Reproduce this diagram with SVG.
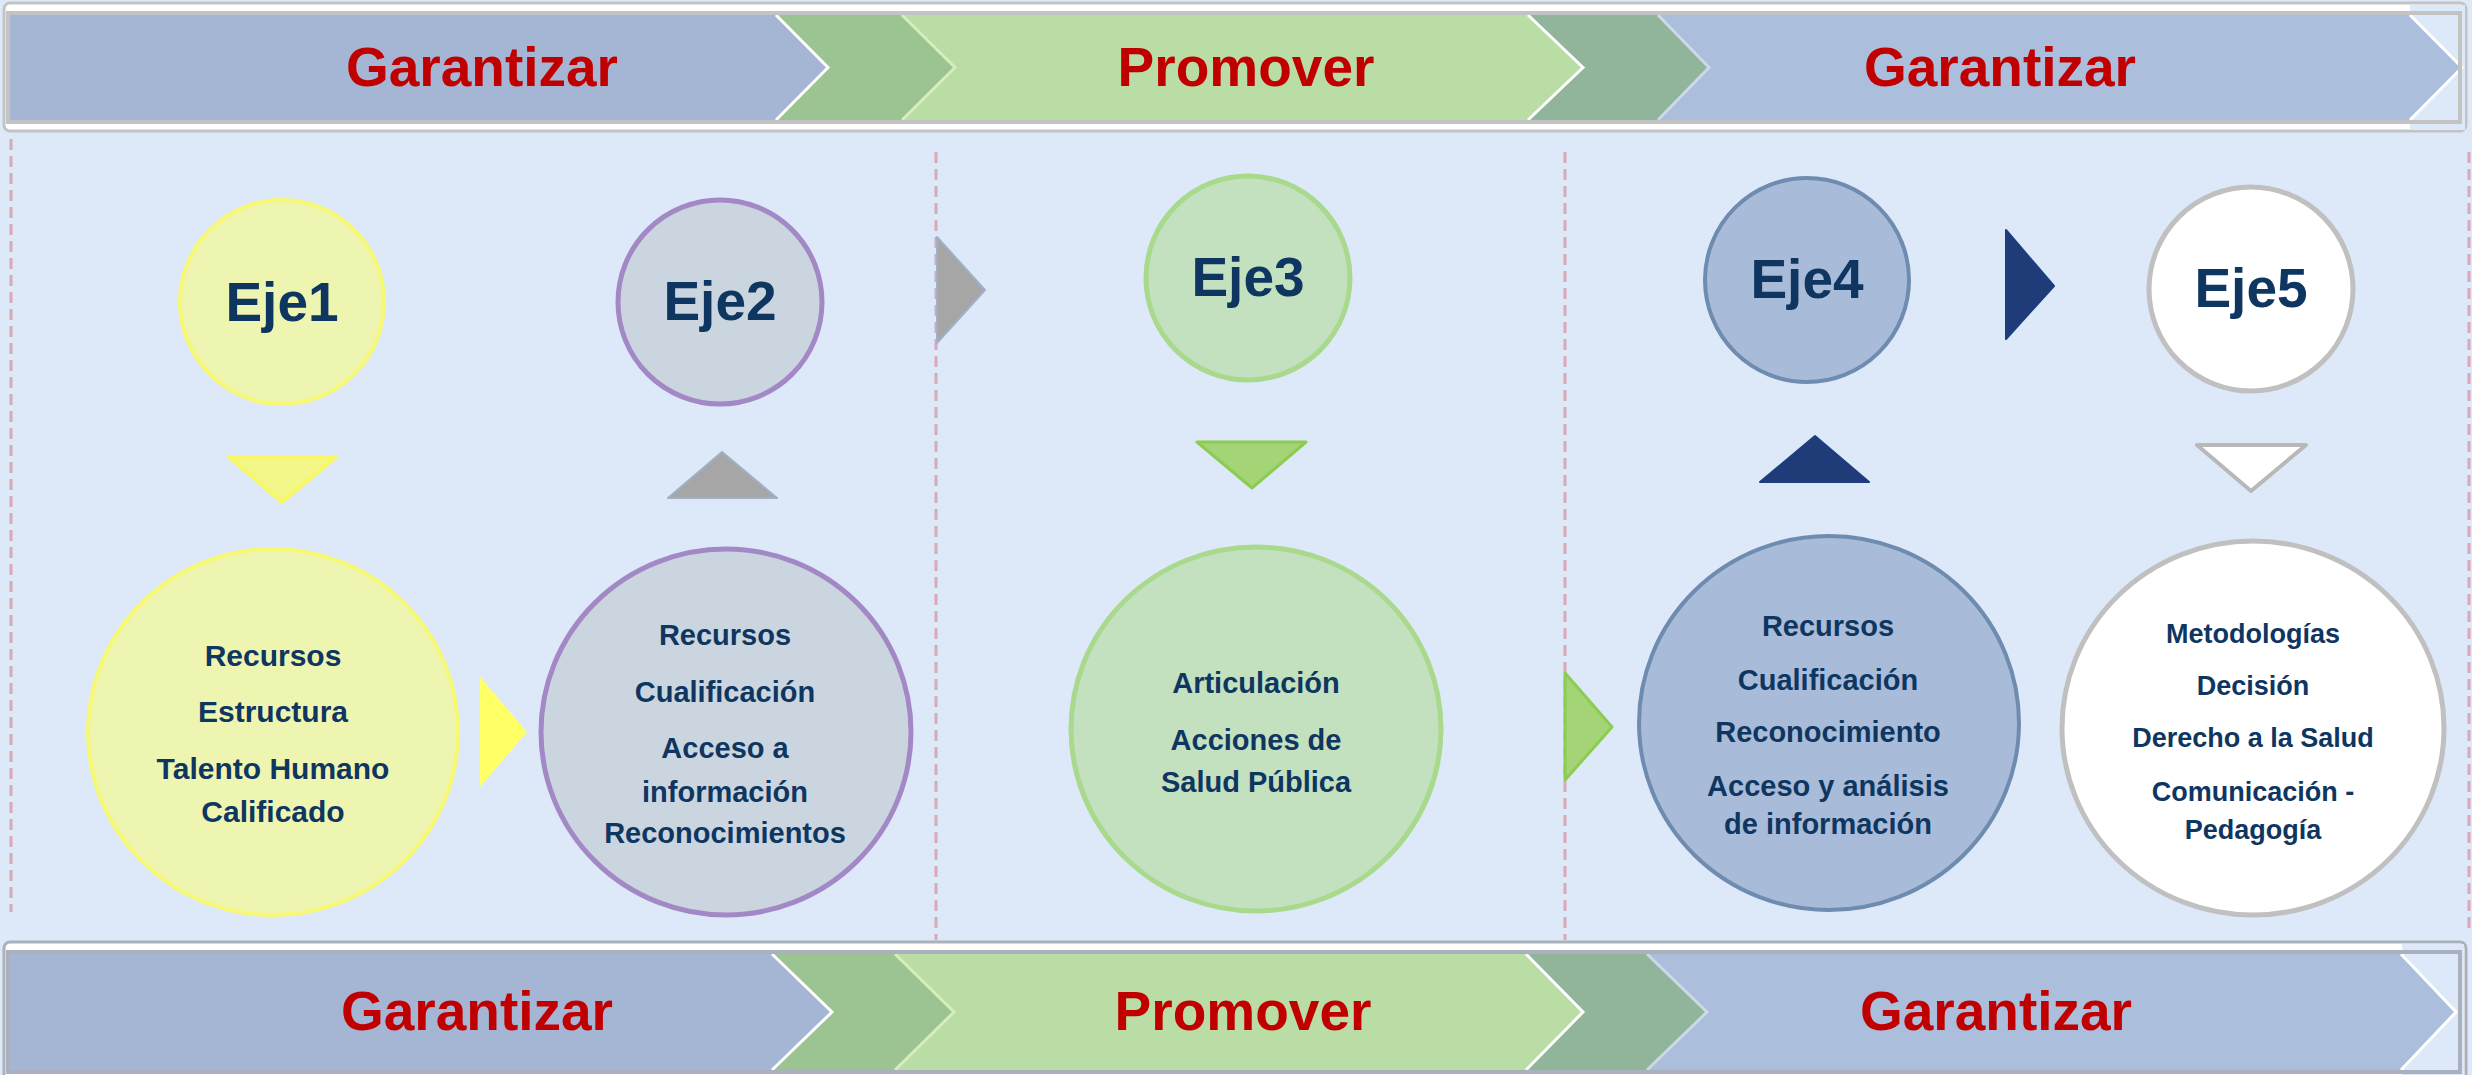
<svg xmlns="http://www.w3.org/2000/svg" width="2472" height="1075" viewBox="0 0 2472 1075">
<defs>
<style>
.ban{font-family:"Liberation Sans",Arial,sans-serif;font-weight:bold;font-size:55px;fill:#c00000;text-anchor:middle}
.eje{font-family:"Liberation Sans",Arial,sans-serif;font-weight:bold;font-size:55px;fill:#0e3660;text-anchor:middle}
.txt{font-family:"Liberation Sans",Arial,sans-serif;font-weight:bold;font-size:29px;fill:#0e3660;text-anchor:middle}
.dash{stroke:#d9a9b9;stroke-width:3;stroke-dasharray:11 6;fill:none}
.edgeW{fill:none;stroke:#ffffff;stroke-width:3}
.edgeG{fill:none;stroke:#d6edbe;stroke-width:3}
.edgeB{fill:none;stroke:#cdd8e8;stroke-width:3}
</style>
</defs>
<rect x="0" y="0" width="2472" height="1075" fill="#dde9f9"/>

<g id="separators">
<line class="dash" x1="11" y1="139" x2="11" y2="912"/>
<line class="dash" x1="936" y1="152" x2="936" y2="940"/>
<line class="dash" x1="1565" y1="152" x2="1565" y2="940"/>
<line class="dash" x1="2469" y1="152" x2="2469" y2="930"/>
</g>

<g id="banner-top">
<rect x="4" y="3" width="2462" height="128" rx="6" fill="#ffffff" stroke="#c3c3c3" stroke-width="3"/>
<rect x="2410" y="5" width="55" height="125" fill="#dde9f9"/>
<polygon points="10,15 776,15 828,67.5 776,120 10,120" fill="#a4b6d4"/>
<polygon points="776,15 902,15 955,67.5 902,120 776,120 828,67.5" fill="#9cc392"/>
<polygon points="902,15 1528,15 1583,67.5 1528,120 902,120 955,67.5" fill="#b9dda5"/>
<polygon points="1528,15 1658,15 1709,67.5 1658,120 1528,120 1583,67.5" fill="#90b59b"/>
<polygon points="1658,15 2410,15 2462,67.5 2410,120 1658,120 1709,67.5" fill="#abbedb"/>
<polygon points="2410,15 2460,15 2460,120 2410,120 2462,67.5" fill="#dde9f9"/>
<polyline class="edgeW" points="776,15 828,67.5 776,120"/>
<polyline class="edgeG" points="902,15 955,67.5 902,120"/>
<polyline class="edgeW" points="1528,15 1583,67.5 1528,120"/>
<polyline class="edgeB" points="1658,15 1709,67.5 1658,120"/>
<polyline class="edgeW" points="2410,15 2462,67.5 2410,120"/>
<rect x="8" y="13" width="2452" height="109" fill="none" stroke="#c3c3c3" stroke-width="4"/>
<text class="ban" x="482" y="86">Garantizar</text>
<text class="ban" x="1246" y="86">Promover</text>
<text class="ban" x="2000" y="86">Garantizar</text>
</g>

<g id="banner-bottom">
<rect x="4" y="942" width="2462" height="145" rx="6" fill="#ffffff" stroke="#aab1bc" stroke-width="3"/>
<rect x="2402" y="944" width="62" height="131" fill="#dde9f9"/>
<polygon points="10,954 772,954 832,1012 772,1070 10,1070" fill="#a4b6d4"/>
<polygon points="772,954 895,954 954,1012 895,1070 772,1070 832,1012" fill="#9cc392"/>
<polygon points="895,954 1526,954 1583,1012 1526,1070 895,1070 954,1012" fill="#b9dda5"/>
<polygon points="1526,954 1647,954 1707,1012 1647,1070 1526,1070 1583,1012" fill="#90b59b"/>
<polygon points="1647,954 2401,954 2456,1012 2401,1070 1647,1070 1707,1012" fill="#abbedb"/>
<polygon points="2401,954 2458,954 2458,1070 2401,1070 2456,1012" fill="#dde9f9"/>
<polyline class="edgeW" points="772,954 832,1012 772,1070"/>
<polyline class="edgeG" points="895,954 954,1012 895,1070"/>
<polyline class="edgeW" points="1526,954 1583,1012 1526,1070"/>
<polyline class="edgeB" points="1647,954 1707,1012 1647,1070"/>
<polyline class="edgeW" points="2401,954 2456,1012 2401,1070"/>
<rect x="8" y="952" width="2452" height="120" fill="none" stroke="#aab1bc" stroke-width="4"/>
<text class="ban" x="477" y="1030">Garantizar</text>
<text class="ban" x="1243" y="1030">Promover</text>
<text class="ban" x="1996" y="1030">Garantizar</text>
</g>

<g id="eje1">
<circle cx="282" cy="302" r="102" fill="#eef5b0" stroke="#f7f873" stroke-width="4"/>
<text class="eje" x="282" y="321">Eje1</text>
</g>
<g id="eje1-detalle">
<ellipse cx="273" cy="732" rx="185" ry="183" fill="#eef5b0" stroke="#f7f873" stroke-width="4"/>
<text class="txt" font-size="30" x="273" y="666" style="font-size:30px">Recursos</text>
<text class="txt" x="273" y="722" style="font-size:30px">Estructura</text>
<text class="txt" x="273" y="779" style="font-size:30px">Talento Humano</text>
<text class="txt" x="273" y="822" style="font-size:30px">Calificado</text>
</g>

<g id="eje2">
<circle cx="720" cy="302" r="102" fill="#cad5e0" stroke="#a388c6" stroke-width="5"/>
<text class="eje" x="720" y="320">Eje2</text>
</g>
<g id="eje2-detalle">
<ellipse cx="726" cy="732" rx="185" ry="183" fill="#cad5e0" stroke="#a388c6" stroke-width="5"/>
<text class="txt" x="725" y="645">Recursos</text>
<text class="txt" x="725" y="702">Cualificación</text>
<text class="txt" x="725" y="758">Acceso a</text>
<text class="txt" x="725" y="802">información</text>
<text class="txt" x="725" y="843">Reconocimientos</text>
</g>

<g id="eje3">
<circle cx="1248" cy="278" r="102" fill="#c3e0bf" stroke="#a9d98c" stroke-width="5"/>
<text class="eje" x="1248" y="296">Eje3</text>
</g>
<g id="eje3-detalle">
<ellipse cx="1256" cy="729" rx="185" ry="182" fill="#c3e0bf" stroke="#a9d98c" stroke-width="5"/>
<text class="txt" x="1256" y="693">Articulación</text>
<text class="txt" x="1256" y="750">Acciones de</text>
<text class="txt" x="1256" y="792">Salud Pública</text>
</g>

<g id="eje4">
<circle cx="1807" cy="280" r="102" fill="#a8bbd8" stroke="#6d8cb0" stroke-width="4"/>
<text class="eje" x="1807" y="298">Eje4</text>
</g>
<g id="eje4-detalle">
<ellipse cx="1829" cy="723" rx="190" ry="187" fill="#a8bbd8" stroke="#6d8cb0" stroke-width="4"/>
<text class="txt" x="1828" y="636">Recursos</text>
<text class="txt" x="1828" y="690">Cualificación</text>
<text class="txt" x="1828" y="742">Reconocimiento</text>
<text class="txt" x="1828" y="796">Acceso y análisis</text>
<text class="txt" x="1828" y="834">de información</text>
</g>

<g id="eje5">
<circle cx="2251" cy="289" r="102" fill="#ffffff" stroke="#c0c0c0" stroke-width="5"/>
<text class="eje" x="2251" y="307">Eje5</text>
</g>
<g id="eje5-detalle">
<ellipse cx="2253" cy="728" rx="191" ry="187" fill="#ffffff" stroke="#c0c0c0" stroke-width="5"/>
<text class="txt" x="2253" y="643" style="font-size:27px">Metodologías</text>
<text class="txt" x="2253" y="695" style="font-size:27px">Decisión</text>
<text class="txt" x="2253" y="747" style="font-size:27px">Derecho a la Salud</text>
<text class="txt" x="2253" y="801" style="font-size:27px">Comunicación -</text>
<text class="txt" x="2253" y="839" style="font-size:27px">Pedagogía</text>
</g>

<g id="connectors" stroke-linejoin="round">
<polygon points="229,457 336,457 282,502" fill="#f3f78a" stroke="#f8f866" stroke-width="4"/>
<polygon points="722,452 777,498 668,498" fill="#a6a6a6" stroke="#9fb0c5" stroke-width="2"/>
<polygon points="480,677 527,732 480,787" fill="#ffff66"/>
<polygon points="937,237 985,290 937,343" fill="#a6a6a6" stroke="#a0b0c8" stroke-width="2"/>
<polygon points="1197,442 1306,442 1252,488" fill="#a3d476" stroke="#8ccc50" stroke-width="3"/>
<polygon points="1565,673 1612,727 1565,780" fill="#a3d476" stroke="#8ccc50" stroke-width="3"/>
<polygon points="1815,436 1869,482 1760,482" fill="#1f3c78" stroke="#1c3e80" stroke-width="2"/>
<polygon points="2006,230 2054,286 2006,339" fill="#1f3c78" stroke="#1c3e80" stroke-width="2"/>
<polygon points="2197,445 2306,445 2251,491" fill="#ffffff" stroke="#b8b8b8" stroke-width="4"/>
</g>
</svg>
